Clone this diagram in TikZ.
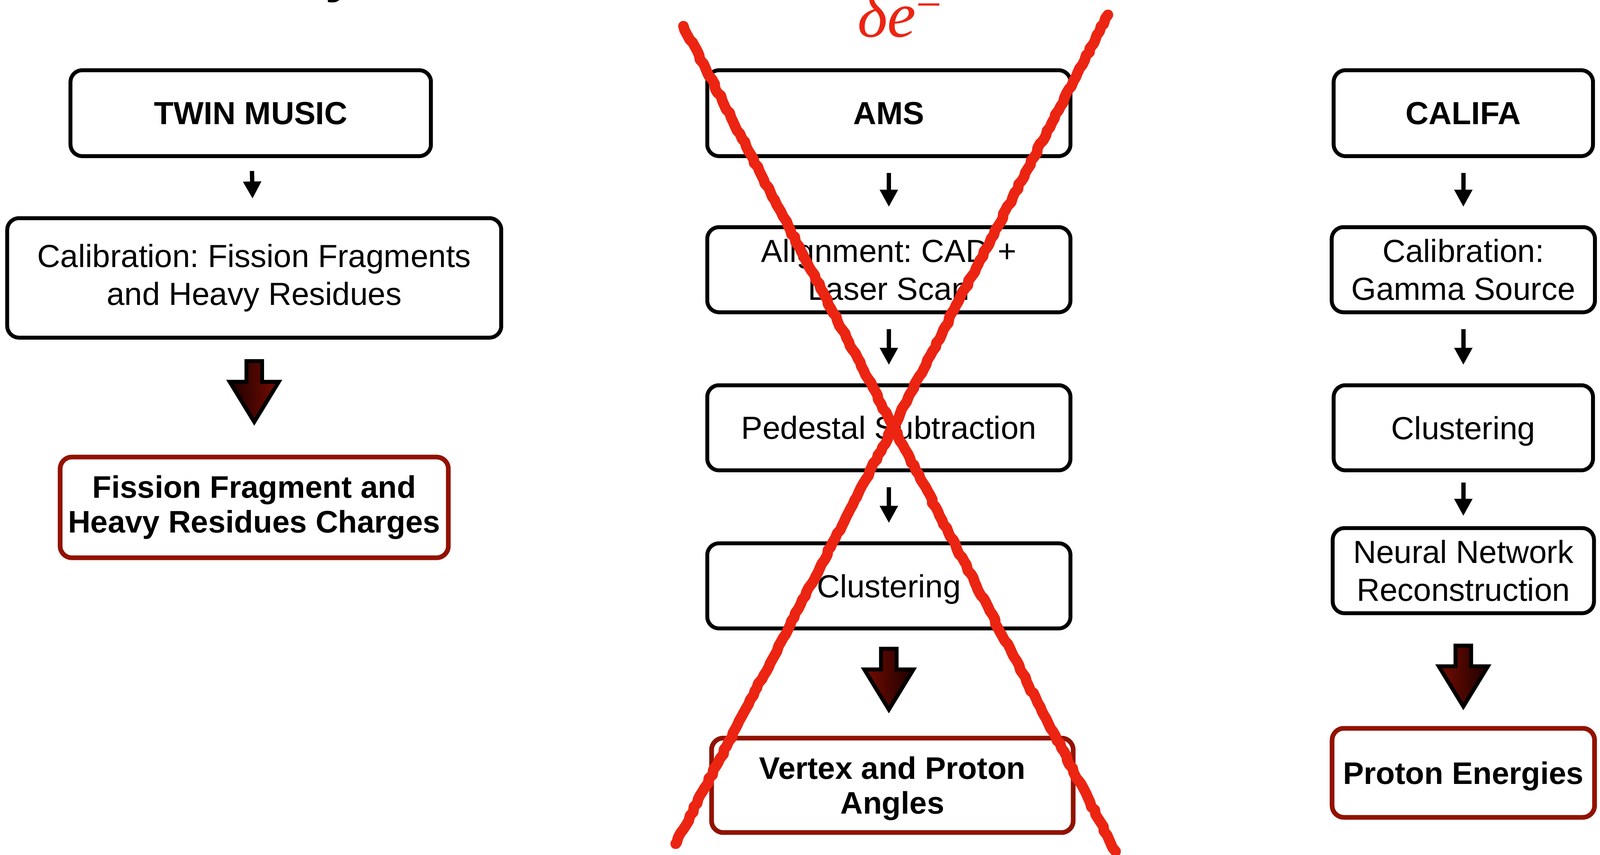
\documentclass[tikz,border=0pt]{standalone}
\usepackage{fontspec}
\setmainfont{Liberation Sans}
\newfontfamily\serifit{Liberation Serif}
\frenchspacing
\usepackage{tikz}
\usetikzlibrary{positioning,arrows.meta,calc,decorations.pathmorphing}
\definecolor{ink}{gray}{0}
\definecolor{resred}{RGB}{146,18,0}
\definecolor{crossred}{RGB}{236,36,18}
\definecolor{arrdark}{RGB}{28,0,0}
\definecolor{arrred}{RGB}{118,12,0}
\tikzset{
  box/.style={draw=ink, line width=0.1cm, rounded corners=0.3cm, fill=white, align=center,
              inner sep=2pt, minimum height=2.18cm, font=\fontsize{23.3}{27.6}\selectfont},
  head/.style={box, minimum height=2.2cm, font=\fontsize{23.3}{27.6}\selectfont\bfseries},
  result/.style={box, draw=resred, line width=0.12cm, font=\fontsize{22.7}{25.3}\selectfont\bfseries},
  flow/.style={-{Triangle[width=0.44cm,length=0.44cm]}, draw=ink, line width=0.11cm,
               shorten <=0.38cm, shorten >=0.47cm},
  fat/.style={draw=ink, line width=0.1cm, line join=miter},
  cross/.style={draw=crossred, line width=0.27cm, line cap=round, line join=round,
                decorate, decoration={random steps, segment length=1.2mm, amplitude=0.25mm}},
}
% block arrow under a node: #1 node, #2 gap, #3 left colour, #4 right colour
\newcommand{\fatarrow}[4]{%
  \path[fat, left color=#3, right color=#4] ($(#1.south)+(0,-#2)$) ++(-0.2,0)
    -- ++(0,-0.53) -- ++(-0.43,0) -- ++(0.63,-1.03) -- ++(0.63,1.03)
    -- ++(-0.43,0) -- ++(0,0.53) -- cycle;}

\begin{document}
\begin{tikzpicture}
  \useasboundingbox (0,0) rectangle (40.97,21.9);

  % cut title
  \node[anchor=base west, inner sep=0, font=\fontsize{40}{40}\selectfont\bfseries] (ttl) at (8.32,22.12) {y};

  % TWIN MUSIC
  \node[head, minimum width=9.23cm] (twin) at (6.42,19.0) {TWIN MUSIC};
  \node[box, minimum width=12.65cm, minimum height=3.06cm, below=1.49cm of twin, xshift=0.09cm] (calff)
       {Calibration: Fission Fragments\\and Heavy Residues};
  \node[result, minimum width=9.94cm, minimum height=2.58cm, below=2.95cm of calff] (charges)
       {Fission Fragment and\\Heavy Residues Charges};
  \draw[flow, shorten <=0.33cm, shorten >=0.45cm] (twin) -- (calff);
  \fatarrow{calff}{0.55}{arrdark}{arrred}

  % AMS
  \node[head, minimum width=9.3cm] (ams) at (22.76,19.0) {AMS};
  \node[box, minimum width=9.3cm, below=1.72cm of ams] (align) {Alignment: CAD +\\Laser Scan};
  \node[box, minimum width=9.3cm, below=1.77cm of align] (pedestal) {Pedestal Subtraction};
  \node[box, minimum width=9.3cm, text depth=0pt, below=1.77cm of pedestal] (clumid) {Clustering};
  \node[result, minimum width=9.26cm, minimum height=2.42cm, text depth=0pt, below=2.7cm of clumid, xshift=0.09cm] (vertex)
       {Vertex and Proton\\Angles};
  \draw[flow] (ams) -- (align);
  \draw[flow] (align) -- (pedestal);
  \draw[flow] (pedestal) -- (clumid);
  \fatarrow{clumid}{0.47}{arrred}{arrdark}

  % CALIFA
  \node[head, minimum width=6.64cm] (califa) at (37.47,19.0) {CALIFA};
  \node[box, minimum width=6.74cm, below=1.72cm of califa] (gamma) {Calibration:\\Gamma Source};
  \node[box, minimum width=6.64cm, text depth=0pt, below=1.77cm of gamma] (cluright) {Clustering};
  \node[box, minimum width=6.69cm, below=1.38cm of cluright] (neural) {Neural Network\\Reconstruction};
  \node[result, minimum width=6.72cm, minimum height=2.28cm, text depth=0pt, below=2.84cm of neural] (energies)
       {Proton Energies};
  \draw[flow] (califa) -- (gamma);
  \draw[flow] (gamma) -- (cluright);
  \draw[flow, shorten <=0.26cm, shorten >=0.26cm] (cluright) -- (neural);
  \fatarrow{neural}{0.78}{arrred}{arrdark}

  % crossed out
  \coordinate (xa1) at (17.50,21.23);
  \coordinate (xa2) at (28.57,0.08);
  \coordinate (xb1) at (28.37,21.52);
  \coordinate (xb2) at (17.30,0.28);
  \draw[cross] (xa1) -- (xa2);
  \draw[cross] (xb1) -- (xb2);
  \node[anchor=base west, inner sep=0, text=crossred, font=\serifit\fontsize{47}{47}\selectfont\itshape] (delta)
       at (21.95,20.95) {δe\raisebox{0.44cm}{\upshape\fontsize{33}{33}\selectfont −}};
\end{tikzpicture}
\end{document}
